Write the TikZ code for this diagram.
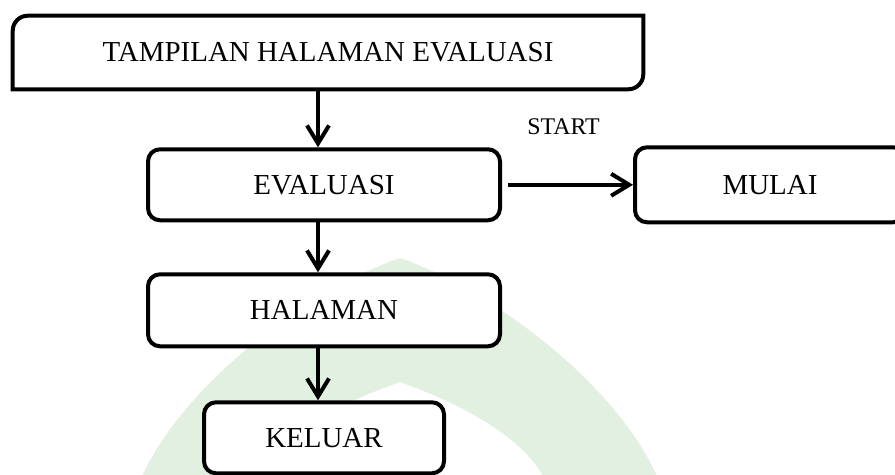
\documentclass[tikz,border=0pt]{standalone}
\usepackage{fontspec}
\setmainfont{Liberation Serif}
\usepackage{xcolor}
\usetikzlibrary{arrows.meta, positioning}
\definecolor{wmgreen}{RGB}{225,240,224}
\tikzset{
  block/.style={draw, rounded corners=3mm, line width=1mm, fill=white, align=center, inner sep=0pt},
  topblock/.style={align=center, inner sep=0pt, minimum width=157.5mm, minimum height=18.25mm},
  arrow/.style={-{Straight Barb[length=4.5mm, width=5.5mm]}, line width=1mm},
  note/.style={align=center, font=\fontsize{17}{20}\selectfont, inner sep=0pt},
  every node/.style={font=\fontsize{20.6}{24}\selectfont}
}

\begin{document}
\begin{tikzpicture}
    \useasboundingbox (0,0) rectangle (223.75mm,-118.5mm);
    \clip (0,0) rectangle (223.75mm,-118.5mm);

    % watermark in the back
    \begin{scope}[x=0.25mm, y=-0.25mm]
      \fill[wmgreen, even odd rule]
        (135,500) -- (143,474) .. controls (190,375) and (320,285) .. (400,258)
        .. controls (480,285) and (610,375) .. (656,474) -- (665,500) -- cycle
        (240,500) -- (251,474) .. controls (280,430) and (350,400) .. (400,382)
        .. controls (450,400) and (515,430) .. (542,474) -- (550,500) -- cycle;
    \end{scope}

    \node[topblock] (top) at (82mm,-13.125mm) {TAMPILAN HALAMAN EVALUASI};
    \draw[line width=1mm, fill=white] (top.south west) -- ([yshift=-3.75mm]top.north west)
      arc[start angle=180, end angle=90, radius=3.75mm] -- (top.north east)
      -- ([yshift=3.75mm]top.south east) arc[start angle=0, end angle=-90, radius=3.75mm] -- cycle;
    \node[topblock] at (top) {TAMPILAN HALAMAN EVALUASI};

    \node[block, minimum width=88mm, minimum height=17.75mm, below=14.5mm of top, xshift=-1mm] (eval) {EVALUASI};
    \node[block, minimum width=88mm, minimum height=18mm, below=12.5mm of eval] (hal) {HALAMAN};
    \node[block, minimum width=60mm, minimum height=17.75mm, below=13mm of hal] (kel) {KELUAR};
    \node[block, minimum width=67.5mm, minimum height=18.75mm, right=32.75mm of eval] (mulai) {MULAI};

    \draw[arrow] ([xshift=-1.5mm]eval.north |- top.south) -- ([xshift=-1.5mm]eval.north);
    \draw[arrow] ([xshift=-1.5mm]eval.south) -- ([xshift=-1.5mm]hal.north);
    \draw[arrow] ([xshift=-1.5mm]hal.south) -- ([xshift=-1.5mm]kel.north);
    \draw[arrow] ([xshift=1.5mm]eval.east) -- coordinate[midway] (mid) (mulai.west);

    \node[note, above=12.5mm of mid, xshift=-1.75mm] (start) {START};
\end{tikzpicture}
\end{document}
